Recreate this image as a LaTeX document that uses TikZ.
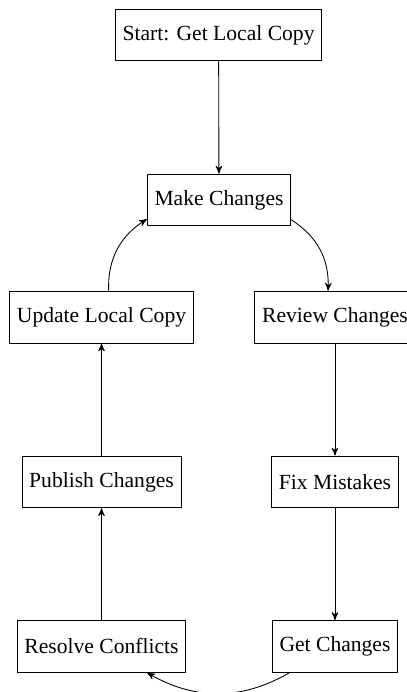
\documentclass[tikz,border=0pt]{standalone}
\usepackage{fontspec}
\setmainfont{Liberation Serif}
\usetikzlibrary{arrows}

\begin{document}
\begin{tikzpicture}[x=1pt, y=1pt, >=stealth', box/.style={draw, minimum height=24pt, inner sep=3.33pt}]
\useasboundingbox (0,0) rectangle (188.4,-320.4);
\node[box] (start)    at (101.2,-16.2)  {Start: Get Local Copy};
\node[box] (make)     at (101.4,-92.6)  {Make Changes};
\node[box] (update)   at (47.0,-146.8)  {Update Local Copy};
\node[box] (review)   at (155.1,-146.8) {Review Changes};
\node[box] (publish)  at (47.0,-223.1)  {Publish Changes};
\node[box] (fix)      at (155.1,-223.1) {Fix Mistakes};
\node[box] (resolve)  at (47.0,-299.3)  {Resolve Conflicts};
\node[box] (get)      at (155.1,-299.3) {Get Changes};
\path[->]
(start) edge (make)
(make) edge[bend left] (review)
(review) edge (fix)
(fix) edge (get);
\path[->]
(get) edge[bend left] (resolve)
(resolve) edge (publish)
(publish) edge (update)
(update) edge[bend left] (make);
\end{tikzpicture}
\end{document}
